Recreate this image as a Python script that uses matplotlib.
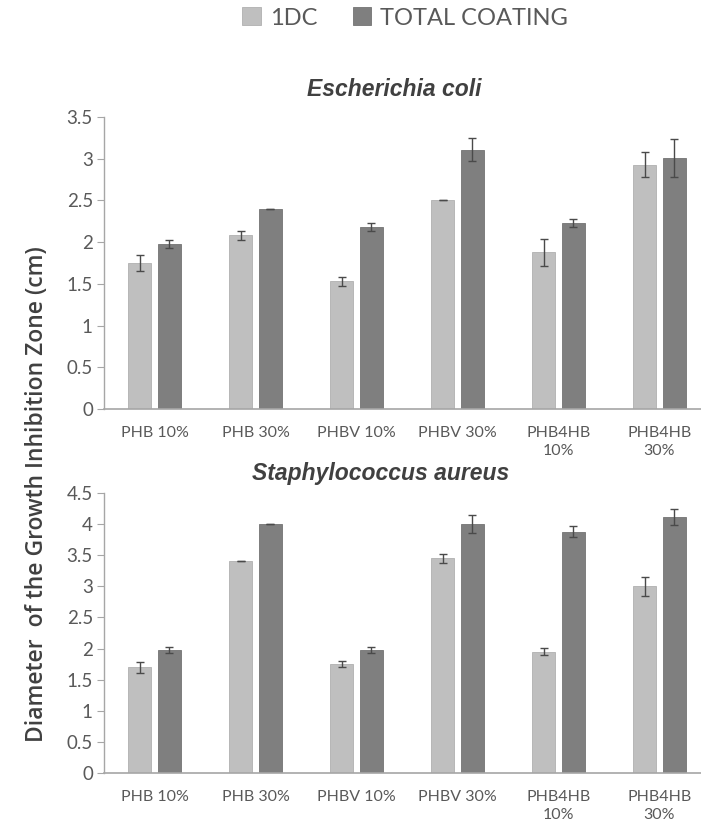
import matplotlib
matplotlib.use("Agg")
import matplotlib.pyplot as plt
import numpy as np

categories = ["PHB 10%", "PHB 30%", "PHBV 10%", "PHBV 30%", "PHB4HB\n10%", "PHB4HB\n30%"]
series_names = ["1DC", "TOTAL COATING"]

ecoli_1dc = [1.75, 2.08, 1.53, 2.50, 1.88, 2.93]
ecoli_1dc_err = [0.10, 0.05, 0.05, 0.0, 0.16, 0.15]
ecoli_total = [1.98, 2.40, 2.18, 3.11, 2.23, 3.01]
ecoli_total_err = [0.05, 0.0, 0.05, 0.14, 0.05, 0.23]

saureus_1dc = [1.70, 3.40, 1.75, 3.45, 1.95, 3.00]
saureus_1dc_err = [0.09, 0.0, 0.05, 0.07, 0.06, 0.15]
saureus_total = [1.98, 4.00, 1.98, 4.00, 3.88, 4.11]
saureus_total_err = [0.05, 0.0, 0.05, 0.145, 0.09, 0.13]

titles = ["Escherichia coli", "Staphylococcus aureus"]
ylabel = "Diameter  of the Growth Inhibition Zone (cm)"

light = "#bfbfbf"
dark = "#7f7f7f"
txt = "#595959"
axc = "#a6a6a6"

fig = plt.figure(figsize=(7.01, 8.30), dpi=100)
W, H = 701, 830

def make_ax(top_px, bottom_px):
    left = 104 / W
    right = 710 / W
    return fig.add_axes([left, 1 - bottom_px / H, right - left, (bottom_px - top_px) / H])

ax1 = make_ax(117, 409)
ax2 = make_ax(493, 773)

x = np.arange(len(categories))
bw = 0.23
off = 0.145

def draw(ax, v1, e1, v2, e2, ymax, title, title_x_px, title_y_px):
    b1 = ax.bar(x - off, v1, bw, color=light, edgecolor="#b0b0b0", linewidth=0.6, zorder=2)
    b2 = ax.bar(x + off, v2, bw, color=dark, edgecolor="#737373", linewidth=0.6, zorder=2)
    ax.errorbar(x - off, v1, yerr=e1, fmt="none", ecolor="#4a4a4a", elinewidth=1.0, capsize=3, capthick=1.0, zorder=3)
    ax.errorbar(x + off, v2, yerr=e2, fmt="none", ecolor="#4a4a4a", elinewidth=1.0, capsize=3, capthick=1.0, zorder=3)
    ax.set_xlim(-0.5, 5.5)
    ax.set_ylim(0, ymax)
    ticks = np.arange(0, ymax + 0.01, 0.5)
    ax.set_yticks(ticks)
    ax.set_yticklabels([("%g" % t) for t in ticks])
    ax.set_xticks(x)
    ax.set_xticklabels(categories, linespacing=1.4)
    for s in ["top", "right"]:
        ax.spines[s].set_visible(False)
    ax.spines["left"].set_color(axc)
    ax.spines["bottom"].set_color(axc)
    ax.spines["left"].set_linewidth(1.0)
    ax.spines["bottom"].set_linewidth(1.2)
    ax.tick_params(axis="y", direction="out", length=5, color=axc, labelsize=13.5, labelcolor=txt, pad=3)
    ax.tick_params(axis="x", length=0, labelsize=11.5, labelcolor=txt, pad=12)
    for lbl in ax.get_xticklabels() + ax.get_yticklabels():
        lbl.set_family(["Lato", "DejaVu Sans"])
    fig.text(title_x_px / W, 1 - title_y_px / H, title, ha="center", va="center",
             fontsize=16.5, fontweight="bold", style="italic", color="#404040",
             family=["Liberation Sans", "DejaVu Sans"])
    return b1, b2

b1, b2 = draw(ax1, ecoli_1dc, ecoli_1dc_err, ecoli_total, ecoli_total_err, 3.5, titles[0], 394, 89)
draw(ax2, saureus_1dc, saureus_1dc_err, saureus_total, saureus_total_err, 4.5, titles[1], 381, 473)

fig.text(37 / W, 1 - 494 / H, ylabel, rotation=90, ha="center", va="center",
         fontsize=16.5, fontweight="semibold", color="#404040", family=["Open Sans", "DejaVu Sans"])

leg = fig.legend([b1, b2], series_names, loc="center", bbox_to_anchor=(405 / W, 1 - 18 / H),
                 ncol=2, frameon=False, handlelength=0.8, handleheight=0.8,
                 handletextpad=0.35, columnspacing=1.5,
                 prop={"family": ["Lato", "DejaVu Sans"], "size": 17})
for t in leg.get_texts():
    t.set_color(txt)

fig.savefig("out.png", dpi=100)
